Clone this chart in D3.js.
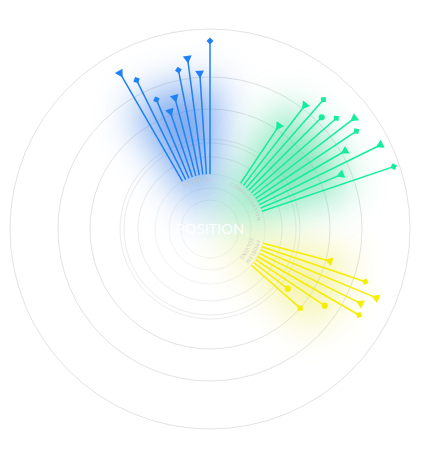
<!DOCTYPE html>
<html>
<head>
<meta charset="utf-8">
<script src="https://cdn.jsdelivr.net/npm/d3@7"></script>
<style>
  html, body { margin: 0; padding: 0; background: #ffffff; }
  svg { display: block; }
</style>
</head>
<body>
<script>
// ---------- data ----------
const title = "POSITION";
const categories = ["TECHNICAL", "COMMUNICATION", "PROBLEM SOLVING"];
const categoryLabelLines = [["TECHNICAL"], ["COMMUNICATION"], ["PROBLEM", "SOLVING"]];
const technicalValues = [90, 83, 70, 62, 68, 81, 86, 78, 94];
const technicalShapes = ["triangle", "square", "square", "triangle", "triangle", "square", "triangle", "triangle", "square"];
const communicationValues = [62, 78, 86, 79, 84, 91, 88, 78, 95, 71, 97];
const communicationShapes = ["triangle", "triangle", "square", "circle", "square", "triangle", "square", "triangle", "triangle", "triangle", "square"];
const problemValues = [62, 82, 90, 84, 86, 69, 49, 60];
const problemShapes = ["triangle", "square", "triangle", "triangle", "square", "circle", "circle", "square"];
const baseValue = 27.5;
const ringValues = [14.5, 20.5, 27.5, 36, 43, 45, 60, 76, 100];

// ---------- layout ----------
const W = 422, H = 467;
const cx = 210, cy = 229;
const slotCount = 96, firstSlot = -8, gapSlots = 8;
const colors = ["#1f80f7", "#12ee9c", "#f5ee00"];
const glowColors = ["#3a7fe6", "#38d690", "#e6e33c"];
const glowOpacity = [0.7, 0.62, 0.45];

const groups = [
  { name: categories[0], values: technicalValues, shapes: technicalShapes },
  { name: categories[1], values: communicationValues, shapes: communicationShapes },
  { name: categories[2], values: problemValues, shapes: problemShapes }
];
let slot = firstSlot;
groups.forEach((g, gi) => {
  g.color = colors[gi];
  g.glow = glowColors[gi];
  g.glowOpacity = glowOpacity[gi];
  g.lines = categoryLabelLines[gi];
  g.items = g.values.map((v, i) => ({ value: v, shape: g.shapes[i], slot: slot + i }));
  g.startSlot = slot;
  g.endSlot = slot + g.values.length - 1;
  slot += g.values.length + gapSlots;
});

const rScale = d3.scaleLinear().domain([0, 100]).range([0, 200]);
const aScale = d3.scaleLinear().domain([0, slotCount]).range([0, 360]);
const rad = d => d * Math.PI / 180;
const px = (a, r) => r * Math.sin(rad(a));
const py = (a, r) => -r * Math.cos(rad(a));

const svg = d3.select("body").append("svg").attr("width", W).attr("height", H);
const defs = svg.append("defs");
const blur = defs.append("filter").attr("id", "glow")
  .attr("x", "-60%").attr("y", "-60%").attr("width", "220%").attr("height", "220%");
blur.append("feGaussianBlur").attr("stdDeviation", 20);

const root = svg.append("g").attr("transform", `translate(${cx},${cy})`);

// rings
root.append("g").selectAll("circle").data(ringValues).join("circle")
  .attr("r", d => rScale(d))
  .attr("fill", "none")
  .attr("stroke", d => d >= 60 ? "#e3e3e3" : d >= 36 ? "#ececec" : "#f3f3f3")
  .attr("stroke-width", 1);

// glows
const arcGen = d3.arc();
root.append("g").selectAll("path").data(groups).join("path")
  .attr("d", g => arcGen({
    innerRadius: rScale(9),
    outerRadius: rScale(72),
    startAngle: rad(aScale(g.startSlot - 1)),
    endAngle: rad(aScale(g.endSlot + 1))
  }))
  .attr("fill", g => g.glow)
  .attr("opacity", g => g.glowOpacity)
  .attr("filter", "url(#glow)");

// center title
root.append("text")
  .attr("x", 0).attr("y", 5)
  .attr("text-anchor", "middle")
  .attr("font-family", "Open Sans, sans-serif")
  .attr("font-size", 15)
  .attr("fill", "#ffffff")
  .text(title);

// category labels along arcs (one text element per category)
groups.forEach((g, gi) => {
  const mid = (aScale(g.startSlot) + aScale(g.endSlot)) / 2;
  const t = root.append("text")
    .attr("font-family", "Open Sans, sans-serif")
    .attr("font-size", 5)
    .attr("letter-spacing", 0.3)
    .attr("fill", "#c9c9c9");
  g.lines.forEach((line, li) => {
    const r = rScale(24) - li * 7;
    const a0 = mid - 40, a1 = mid + 40;
    const id = `lab${gi}_${li}`;
    defs.append("path").attr("id", id)
      .attr("d", `M${px(a0, r)},${py(a0, r)} A${r},${r} 0 0 1 ${px(a1, r)},${py(a1, r)}`);
    t.append("textPath")
      .attr("href", `#${id}`)
      .attr("startOffset", "50%")
      .attr("text-anchor", "middle")
      .text(line);
  });
});

// spokes
const sym = {
  triangle: d3.symbol().type(d3.symbolTriangle).size(34),
  square: d3.symbol().type(d3.symbolSquare).size(24),
  circle: d3.symbol().type(d3.symbolCircle).size(30)
};
groups.forEach(g => {
  const gg = root.append("g");
  gg.selectAll("line").data(g.items).join("line")
    .attr("x1", d => px(aScale(d.slot), rScale(baseValue)))
    .attr("y1", d => py(aScale(d.slot), rScale(baseValue)))
    .attr("x2", d => px(aScale(d.slot), rScale(d.value)))
    .attr("y2", d => py(aScale(d.slot), rScale(d.value)))
    .attr("stroke", g.color)
    .attr("stroke-width", 1.5);
  gg.selectAll("path").data(g.items).join("path")
    .attr("d", d => sym[d.shape]())
    .attr("transform", d => {
      const a = aScale(d.slot);
      const rot = d.shape === "triangle" ? a + 180 : d.shape === "square" ? a + 45 : 0;
      return `translate(${px(a, rScale(d.value))},${py(a, rScale(d.value))}) rotate(${rot})`;
    })
    .attr("fill", g.color);
});
</script>
</body>
</html>
